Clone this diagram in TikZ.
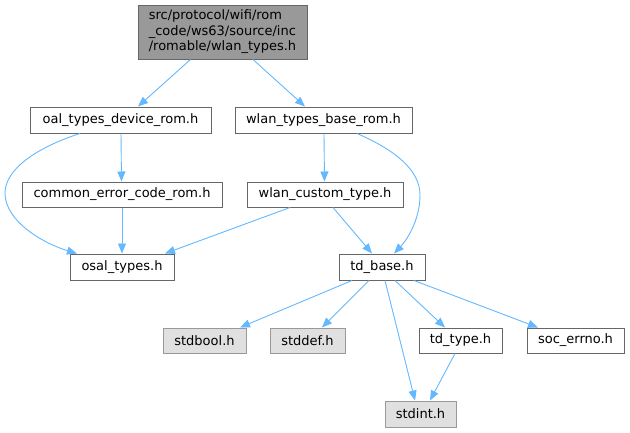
\documentclass[tikz,border=0pt]{standalone}
\usepackage{fontspec}
\setmainfont{DejaVu Sans}
\usetikzlibrary{arrows.meta,calc}
\definecolor{edgec}{HTML}{63B8FF}
\definecolor{rootfill}{HTML}{999999}
\definecolor{bord}{HTML}{666666}
\definecolor{sysfill}{HTML}{E0E0E0}
\definecolor{sysbord}{HTML}{999999}
\begin{document}
\begin{tikzpicture}[x=1pt,y=-1pt,
  filebox/.style={draw=bord,fill=white,line width=1pt,rectangle,inner sep=0pt,
    font=\fontsize{13}{15.5}\selectfont,text=black},
  sysbox/.style={filebox,draw=sysbord,fill=sysfill},
  rootbox/.style={filebox,fill=rootfill},
  dep/.style={draw=edgec,line width=0.9pt,-{Triangle[length=10pt,width=8pt]}}]
\useasboundingbox (0,0) rectangle (630,432);
\node[rootbox,minimum width=169pt,minimum height=54pt,align=left] (root) at (222.5,32)
  {src/protocol/wifi/rom\\\_code/ws63/source/inc\\/romable/wlan\_types.h};
\node[filebox,minimum width=181pt,minimum height=26pt] (oal) at (120.5,120) {oal\_types\_device\_rom.h};
\node[filebox,minimum width=177pt,minimum height=26pt] (wtb) at (323.5,120) {wlan\_types\_base\_rom.h};
\node[filebox,minimum width=200pt,minimum height=25pt] (cec) at (122,194.5) {common\_error\_code\_rom.h};
\node[filebox,minimum width=156pt,minimum height=25pt] (wct) at (325,194.5) {wlan\_custom\_type.h};
\node[filebox,minimum width=104pt,minimum height=26pt] (osal) at (122,267) {osal\_types.h};
\node[filebox,minimum width=86pt,minimum height=26pt] (tdb) at (382,267) {td\_base.h};
\node[sysbox,minimum width=83pt,minimum height=25pt] (stdbool) at (204.5,340.5) {stdbool.h};
\node[sysbox,minimum width=75pt,minimum height=25pt] (stddef) at (307.5,340.5) {stddef.h};
\node[filebox,minimum width=83pt,minimum height=25pt] (tdtype) at (460.5,340.5) {td\_type.h};
\node[filebox,minimum width=97pt,minimum height=25pt] (soc) at (575.5,340.5) {soc\_errno.h};
\node[sysbox,minimum width=71pt,minimum height=26pt] (stdint) at (420.5,414) {stdint.h};

\draw[dep] ($(root.south)+(-32,0)$) -- ($(oal.north)+(17.5,0)$);
\draw[dep] ($(root.south)+(30.5,0)$) -- ($(wtb.north)+(-18.5,0)$);
\draw[dep] ($(oal.south)+(0.5,0)$) -- ($(cec.north)+(-0.5,0)$);
\draw[dep] ($(oal.south)+(-40.5,0)$) .. controls (35,148) and (5,170) .. (5,193)
  .. controls (5,222) and (45,244) .. ($(osal.north)+(-45,0)$);
\draw[dep] (cec.south) -- (osal.north);
\draw[dep] ($(wtb.south)+(0.5,0)$) -- ($(wct.north)+(-0.5,0)$);
\draw[dep] ($(wtb.south)+(33.5,0)$) .. controls (395,150) and (420,170) .. (420,195)
  .. controls (420,222) and (405,242) .. ($(tdb.north)+(12,0)$);
\draw[dep] ($(wct.south)+(-35,0)$) -- ($(osal.north)+(43,0)$);
\draw[dep] ($(wct.south)+(8,0)$) -- ($(tdb.north)+(-10,0)$);
\draw[dep] ($(tdb.south)+(-30,0)$) -- ($(stdbool.north)+(35.5,0)$);
\draw[dep] ($(tdb.south)+(-13,0)$) -- ($(stddef.north)+(14.5,0)$);
\draw[dep] ($(tdb.south)+(3,0)$) -- ($(stdint.north)+(-5.5,0)$);
\draw[dep] ($(tdb.south)+(13,0)$) -- ($(tdtype.north)+(-15.5,0)$);
\draw[dep] ($(tdb.south)+(32,0)$) -- ($(soc.north)+(-37.5,0)$);
\draw[dep] ($(tdtype.south)+(-5.5,0)$) -- ($(stdint.north)+(9.5,0)$);
\end{tikzpicture}
\end{document}
